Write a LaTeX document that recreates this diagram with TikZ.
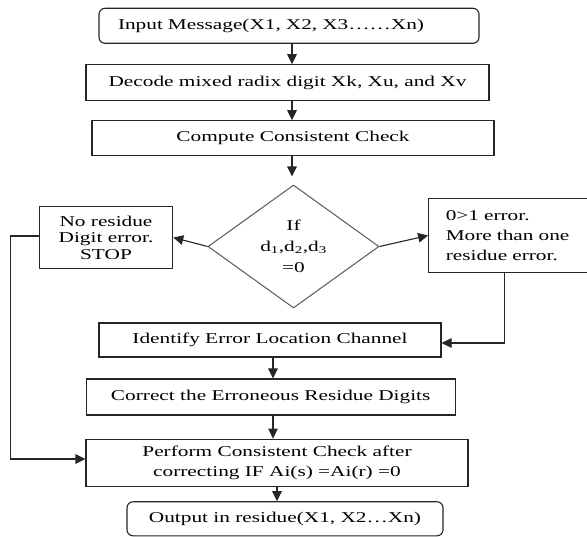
\documentclass[tikz,border=0pt]{standalone}
\usepackage{fontspec}
\setmainfont[FakeStretch=1.42]{Liberation Serif}
\usetikzlibrary{shapes.geometric,arrows.meta,calc}
\begin{document}
\begin{tikzpicture}[x=1pt,y=-1pt,
  font=\fontsize{15}{17}\selectfont,
  box/.style={draw=black!85,line width=1.1pt,inner sep=0pt,align=center},
  rbox/.style={box,rounded corners=6pt},
  dec/.style={draw=black!65,line width=1pt,diamond,aspect=1.39,inner sep=0pt,align=center},
  arr/.style={draw=black!85,line width=1.1pt,-{Triangle[length=10pt,width=9.5pt]}},
  ln/.style={draw=black!85,line width=1.1pt}]
\useasboundingbox (0,0) rectangle (587,537);
\fill[white] (0,0) rectangle (587,537);
\coordinate (col1) at (292,0);
\coordinate (col2) at (273,0);
\coordinate (col4) at (277,0);
\coordinate (col3) at (504.3,0);
\coordinate (colL) at (10.5,0);

\node[rbox,minimum width=380pt,minimum height=35pt,text width=342pt,align=left,inner xsep=19pt] (in) at (289,25.8) {Input Message(X1, X2, X3……Xn)};
\node[box,minimum width=403pt,minimum height=36pt] (dc) at (287.5,82.8) {Decode mixed radix digit Xk, Xu, and Xv};
\node[box,minimum width=402pt,minimum height=34.5pt] (comp) at (293,138) {Compute Consistent Check};
\node[dec,minimum width=171pt,minimum height=123pt,font=\fontsize{15}{21}\selectfont] (dia) at (293.5,246.5) {If\\d\textsubscript{1},d\textsubscript{2},d\textsubscript{3}\\=0};
\node[box,minimum width=133.4pt,minimum height=61.6pt,font=\fontsize{15}{16.5}\selectfont] (nores) at (106,237.5) {No residue\\Digit error.\\STOP};
\node[box,minimum width=159.3pt,minimum height=74.4pt,text width=125pt,align=left,inner xsep=17pt,font=\fontsize{15}{20}\selectfont] (more) at (508.3,235.5) {0>1 error.\\More than one\\residue error.};
\node[box,minimum width=342pt,minimum height=34pt] (ident) at (270,340) {Identify Error Location Channel};
\node[box,minimum width=369pt,minimum height=36pt] (corr) at (270.7,397) {Correct the Erroneous Residue Digits};
\node[box,minimum width=382pt,minimum height=47.7pt,font=\fontsize{15}{20}\selectfont] (perf) at (277,463) {Perform Consistent Check after\\correcting IF Ai(s) =Ai(r) =0};
\node[rbox,minimum width=316pt,minimum height=34pt] (out) at (285,518.8) {Output in residue(X1, X2…Xn)};

\draw[arr] (in.south -| col1) -- (dc.north -| col1);
\draw[arr] (dc.south -| col1) -- (comp.north -| col1);
\draw[arr,shorten >=8pt] (comp.south -| col1) -- (dia.north -| col1);
\draw[arr] (dia.west) -- (nores.east);
\draw[arr] (dia.east) -- (more.west);
\draw[arr] (more.south -| col3) |- ($(ident.east)+(0,3)$);
\draw[arr] (ident.south -| col2) -- (corr.north -| col2);
\draw[arr] (corr.south -| col2) -- (perf.north -| col2);
\draw[arr] (perf.south -| col4) -- (out.north -| col4);
\draw[arr] ($(nores.west)+(0,-1.5)$) -- ($(nores.west -| colL)+(0,-1.5)$) |- ($(perf.west)+(0,-4)$);
\end{tikzpicture}
\end{document}
